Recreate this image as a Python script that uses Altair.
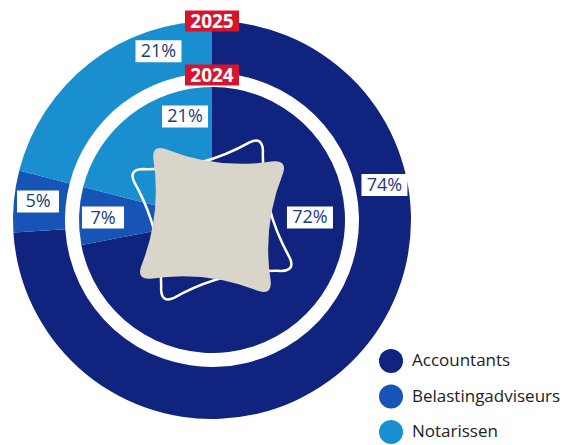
import altair as alt
import pandas as pd

# ---------------- data ----------------
categories = ["Accountants", "Belastingadviseurs", "Notarissen"]
share_2025 = [74, 5, 21]
share_2024 = [72, 7, 21]
year_labels = ["2025", "2024"]

# ---------------- styles / layout ----------------
colors = ["#10237e", "#1655b5", "#1a8fd0"]
label_angle_2025 = [78.5, 276.1, 342.4]   # degrees clockwise from 12 o'clock
label_radius_2025 = [176, 175, 177]       # px from centre
label_angle_2024 = [88.5, 271.3, 345.4]
label_radius_2024 = [98, 109, 107]
year_radius = [199, 145]

W, H = 408, 424
R_OUT, R_OUT_IN, R_IN = 199, 147, 133

SQUIRCLE = ("M -0.8 -0.96 Q 0 -0.74 0.8 -0.96 Q 1 -1 0.96 -0.8 "
            "Q 0.74 0 0.96 0.8 Q 1 1 0.8 0.96 Q 0 0.74 -0.8 0.96 "
            "Q -1 1 -0.96 0.8 Q -0.74 0 -0.96 -0.8 Q -1 -1 -0.8 -0.96 Z")
BOX3 = "M -1 -0.478 L 1 -0.478 L 1 0.478 L -1 0.478 Z"   # 46 x 22
BOX2 = "M -1 -0.524 L 1 -0.524 L 1 0.524 L -1 0.524 Z"   # 42 x 22
YEARBOX = "M -1 -0.389 L 1 -0.389 L 1 0.389 L -1 0.389 Z"  # 54 x 21

FONT = "Open Sans"


def ring(shares):
    return pd.DataFrame({"category": categories, "share": shares,
                         "order": list(range(len(categories)))})


outer = ring(share_2025)
inner = ring(share_2024)

labels = pd.DataFrame({
    "label": [f"{v}%" for v in share_2025] + [f"{v}%" for v in share_2024],
    "a": label_angle_2025 + label_angle_2024,
    "r": label_radius_2025 + label_radius_2024,
})
years = pd.DataFrame({"label": year_labels, "a": [0, 0], "r": year_radius})
centre = pd.DataFrame({"a": [0], "r": [0]})

xs = alt.X("x:Q", scale=alt.Scale(domain=[-W / 2, W / 2], nice=False, zero=False), axis=None)
ys = alt.Y("y:Q", scale=alt.Scale(domain=[-H / 2, H / 2], nice=False, zero=False), axis=None)


def polar(df):
    return alt.Chart(df).transform_calculate(
        x="datum.r * sin(datum.a * PI / 180)",
        y="datum.r * cos(datum.a * PI / 180)",
        n="length(datum.label || '')",
    )


color = alt.Color(
    "category:N",
    scale=alt.Scale(domain=categories, range=colors),
    legend=alt.Legend(
        orient="none", legendX=371, legendY=341, title=None,
        symbolType="circle", symbolSize=576, symbolStrokeWidth=0, symbolOpacity=1,
        labelFont=FONT, labelFontSize=17, labelColor="#222222", labelOffset=9,
        rowPadding=11.5, padding=0,
    ),
)

arc_outer = alt.Chart(outer).mark_arc(outerRadius=R_OUT, innerRadius=R_OUT_IN).encode(
    theta=alt.Theta("share:Q", stack=True), color=color, order=alt.Order("order:Q")
)
arc_inner = alt.Chart(inner).mark_arc(outerRadius=R_IN, innerRadius=0).encode(
    theta=alt.Theta("share:Q", stack=True), color=color, order=alt.Order("order:Q")
)

outline = polar(centre).mark_point(
    shape=SQUIRCLE, size=138 ** 2, filled=False, stroke="white",
    strokeWidth=2.5, angle=346, opacity=1
).encode(x=xs, y=ys)

grey = polar(centre).mark_point(
    shape=SQUIRCLE, size=136 ** 2, filled=True, fill="#d9d5cb",
    strokeWidth=0, angle=6.5, opacity=1
).encode(x=xs, y=ys)

box3 = polar(labels).transform_filter("datum.n >= 3").mark_point(
    shape=BOX3, size=46 ** 2, filled=True, fill="white", strokeWidth=0, opacity=1
).encode(x=xs, y=ys)
box2 = polar(labels).transform_filter("datum.n < 3").mark_point(
    shape=BOX2, size=42 ** 2, filled=True, fill="white", strokeWidth=0, opacity=1
).encode(x=xs, y=ys)
txt = polar(labels).mark_text(
    font=FONT, fontSize=18, color="#1d3b7a", align="center", baseline="middle", dy=1
).encode(x=xs, y=ys, text="label:N")

ybox = polar(years).mark_point(
    shape=YEARBOX, size=54 ** 2, filled=True, fill="#d7142e", strokeWidth=0, opacity=1
).encode(x=xs, y=ys)
ytxt = polar(years).mark_text(
    font=FONT, fontSize=19, fontWeight="bold", color="white",
    align="center", baseline="middle", dy=1
).encode(x=xs, y=ys, text="label:N")

chart = alt.layer(
    arc_outer, arc_inner, outline, grey, box3, box2, txt, ybox, ytxt
).properties(width=W, height=H, padding=0).configure_view(stroke=None)

chart.save("out.html", embed_options={"renderer": "svg", "actions": False})
